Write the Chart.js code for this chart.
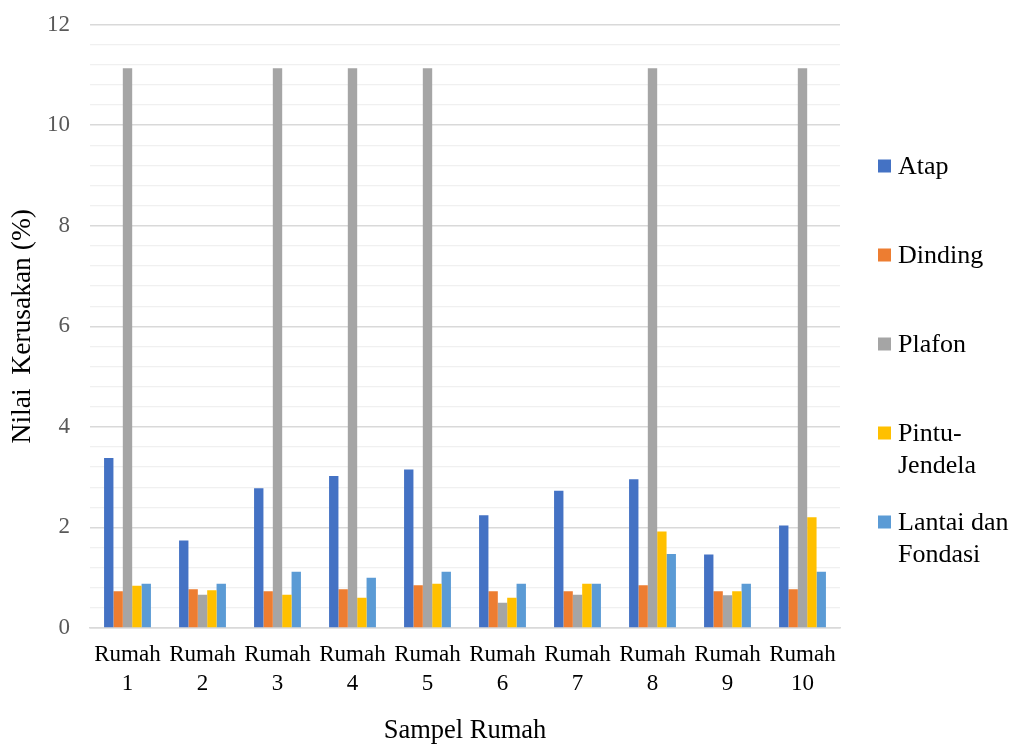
<!DOCTYPE html>
<html>
<head>
<meta charset="utf-8">
<script src="https://cdn.jsdelivr.net/npm/chart.js@4.4.1/dist/chart.umd.min.js"></script>
<style>
  html, body { margin: 0; padding: 0; background: #ffffff; }
  #wrap { width: 1012px; height: 747px; }
</style>
</head>
<body>
<div id="wrap"><canvas id="c" width="1012" height="747"></canvas></div>
<script>
// Kategori sumbu X (tiap label dua baris)
const categories = [
  ['Rumah', '1'], ['Rumah', '2'], ['Rumah', '3'], ['Rumah', '4'], ['Rumah', '5'],
  ['Rumah', '6'], ['Rumah', '7'], ['Rumah', '8'], ['Rumah', '9'], ['Rumah', '10']
];

// Nilai kerusakan (%) per komponen
const atap          = [3.38, 1.74, 2.78, 3.02, 3.15, 2.24, 2.73, 2.96, 1.46, 2.04];
const dinding       = [0.73, 0.77, 0.73, 0.77, 0.85, 0.73, 0.73, 0.85, 0.73, 0.77];
const plafon        = [11.13, 0.66, 11.13, 11.13, 11.13, 0.50, 0.66, 11.13, 0.65, 11.13];
const pintuJendela  = [0.84, 0.75, 0.66, 0.60, 0.88, 0.60, 0.88, 1.92, 0.73, 2.20];
const lantaiFondasi = [0.88, 0.88, 1.12, 1.00, 1.12, 0.88, 0.88, 1.47, 0.88, 1.12];

const seriesNames = ['Atap', 'Dinding', 'Plafon', 'Pintu-Jendela', 'Lantai dan Fondasi'];
const seriesColors = ['#4472C4', '#ED7D31', '#A5A5A5', '#FFC000', '#5B9BD5'];

// Sumbu Y: 0–12, garis bantu tiap 0,4, label tiap 2
const yMin = 0, yMax = 12, yMinorStep = 0.4, yLabelStep = 2;

const FONT = '"Liberation Serif", "Times New Roman", serif';

const isMajor = v => Math.abs(v / yLabelStep - Math.round(v / yLabelStep)) < 1e-6;

// Legenda di sisi kanan, teks dibungkus bila terlalu lebar
const sideLegend = {
  id: 'sideLegend',
  afterDraw(chart, args, opts) {
    const ctx = chart.ctx;
    ctx.save();
    ctx.font = opts.fontSize + 'px ' + FONT;
    ctx.textAlign = 'left';
    ctx.textBaseline = 'alphabetic';
    chart.data.datasets.forEach((ds, i) => {
      const cy = opts.firstY + i * opts.stepY;
      ctx.fillStyle = ds.backgroundColor;
      ctx.fillRect(opts.boxX, cy - opts.box / 2, opts.box, opts.box);
      // bungkus kata
      const tokens = ds.label.match(/[^\s-]+-?/g);
      const lines = [];
      let cur = '';
      tokens.forEach(t => {
        const sep = (cur === '' || cur.endsWith('-')) ? '' : ' ';
        const trial = cur + sep + t;
        if (cur !== '' && ctx.measureText(trial).width > opts.maxWidth) {
          lines.push(cur);
          cur = t;
        } else {
          cur = trial;
        }
      });
      if (cur) lines.push(cur);
      ctx.fillStyle = '#000000';
      lines.forEach((ln, k) => {
        ctx.fillText(ln, opts.textX, cy + opts.baseOffset + k * opts.lineGap);
      });
    });
    ctx.restore();
  }
};

const datasets = [atap, dinding, plafon, pintuJendela, lantaiFondasi].map((vals, i) => ({
  label: seriesNames[i],
  data: vals,
  backgroundColor: seriesColors[i],
  borderWidth: 0,
  categoryPercentage: 0.625,
  barPercentage: 1.0
}));

new Chart(document.getElementById('c'), {
  type: 'bar',
  data: { labels: categories, datasets },
  options: {
    responsive: false,
    animation: false,
    events: [],
    layout: { padding: { top: 24.5, right: 172, bottom: 0, left: 0 } },
    plugins: {
      legend: { display: false },
      tooltip: { enabled: false },
      sideLegend: {
        boxX: 878, box: 13, textX: 898, fontSize: 26,
        firstY: 166, stepY: 89, baseOffset: 8, lineGap: 32, maxWidth: 114
      }
    },
    scales: {
      x: {
        grid: { display: false, drawTicks: false },
        border: { display: true, color: '#d9d9d9', width: 1.5 },
        ticks: {
          color: '#000000',
          padding: 13,
          maxRotation: 0,
          autoSkip: false,
          font: { family: FONT, size: 23, lineHeight: 1.25 }
        },
        title: {
          display: true,
          text: 'Sampel Rumah',
          color: '#000000',
          padding: { top: 0, bottom: 0 },
          font: { family: FONT, size: 26.5 }
        },
        afterFit(scale) { scale.height = 119; }
      },
      y: {
        min: yMin,
        max: yMax,
        border: { display: false },
        grid: {
          drawTicks: false,
          color: c => isMajor(c.tick.value) ? '#d9d9d9' : '#f0f0f0',
          lineWidth: c => isMajor(c.tick.value) ? 1.5 : 1.2
        },
        ticks: {
          stepSize: yMinorStep,
          autoSkip: false,
          padding: 20,
          color: '#595959',
          font: { family: FONT, size: 23 },
          callback: v => isMajor(v) ? String(Math.round(v)) : ''
        },
        title: {
          display: true,
          text: 'Nilai  Kerusakan (%)',
          color: '#000000',
          padding: { top: 6, bottom: 0 },
          font: { family: FONT, size: 27.5 }
        },
        afterFit(scale) {
          scale.width = 90;
          scale.paddingTop = 0;
          scale.paddingBottom = 0;
        }
      }
    }
  },
  plugins: [sideLegend]
});
</script>
</body>
</html>
